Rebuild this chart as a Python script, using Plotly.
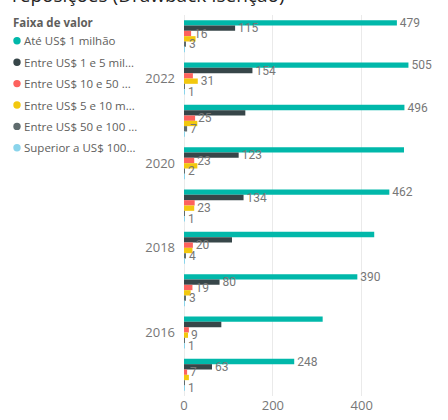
import plotly.graph_objects as go

# Data (top to bottom: 2023 ... 2015)
years = ["2023", "2022", "2021", "2020", "2019", "2018", "2017", "2016", "2015"]
tick_years = ["2022", "2020", "2018", "2016"]

series_names = [
    "Até US$ 1 milhão",
    "Entre US$ 1 e 5 mil...",
    "Entre US$ 10 e 50 ...",
    "Entre US$ 5 e 10 m...",
    "Entre US$ 50 e 100 ...",
    "Superior a US$ 100...",
]
ate_1 = [479, 505, 496, 495, 462, 428, 390, 312, 248]
entre_1_5 = [115, 154, 138, 123, 134, 108, 80, 84, 63]
entre_10_50 = [16, 20, 25, 23, 24, 20, 19, 11, 7]
entre_5_10 = [26, 31, 30, 30, 23, 19, 15, 9, 11]
entre_50_100 = [3, 2, 7, 2, 2, 4, 3, 1, 1]
superior_100 = [1, 1, 1, 1, 1, 1, 1, 1, 1]

# which data labels are visible in the reference (Power BI hides overlapping ones)
ate_1_shown = [1, 1, 1, 0, 1, 0, 1, 0, 1]
entre_1_5_shown = [1, 1, 0, 1, 1, 0, 1, 0, 1]
entre_10_50_shown = [1, 0, 1, 1, 0, 1, 1, 0, 1]
entre_5_10_shown = [0, 1, 0, 0, 1, 0, 0, 1, 0]
entre_50_100_shown = [1, 0, 1, 1, 0, 1, 1, 0, 0]
superior_100_shown = [0, 1, 0, 0, 1, 0, 0, 1, 1]

values = [ate_1, entre_1_5, entre_10_50, entre_5_10, entre_50_100, superior_100]
shown = [ate_1_shown, entre_1_5_shown, entre_10_50_shown, entre_5_10_shown,
         entre_50_100_shown, superior_100_shown]
colors = ["#01B8AA", "#374649", "#FD625E", "#F2C80F", "#5F6B6D", "#8AD4EB"]

W, H = 448, 420
ML, MR, MT, MB = 184, 0, 15, 24
PW, PH = W - ML - MR, H - MT - MB

fig = go.Figure()
for name, vals, sh, col in zip(series_names, values, shown, colors):
    fig.add_trace(go.Bar(
        y=years, x=vals, orientation="h", name=name,
        marker=dict(color=col, line=dict(width=0)),
        text=[" " + str(v) if s else "" for v, s in zip(vals, sh)],
        textposition="outside", constraintext="none", cliponaxis=False,
        textfont=dict(family="Roboto", size=12, color="#777777"),
        showlegend=False,
    ))

def px_x(p):
    return (p - ML) / PW

def px_y(p):
    return (H - MB - p) / PH

annotations = []
shapes = []
# Title (cut at top in the reference)
annotations.append(dict(
    text="reposições (Drawback Isenção)", xref="paper", yref="paper",
    x=px_x(10), y=px_y(10), xanchor="left", yanchor="bottom", showarrow=False,
    font=dict(family="Open Sans", size=19, color="#252423"),
))
# Legend
annotations.append(dict(
    text="<b>Faixa de valor</b>", xref="paper", yref="paper",
    x=px_x(11), y=px_y(22), xanchor="left", yanchor="middle", showarrow=False,
    font=dict(family="Open Sans", size=11.5, color="#605E5C"),
))
leg_y0, leg_dy = 40.8, 21.4
for i, (name, col) in enumerate(zip(series_names, colors)):
    yy = leg_y0 + i * leg_dy
    annotations.append(dict(
        text=name, xref="paper", yref="paper",
        x=px_x(22), y=px_y(yy), xanchor="left", yanchor="middle", showarrow=False,
        font=dict(family="Open Sans", size=11.5, color="#605E5C"),
    ))
    shapes.append(dict(
        type="circle", xref="paper", yref="paper",
        xsizemode="pixel", ysizemode="pixel",
        xanchor=px_x(17), yanchor=px_y(yy),
        x0=-3.7, x1=3.7, y0=-3.7, y1=3.7,
        fillcolor=col, line=dict(width=0),
    ))

fig.update_layout(
    width=W, height=H,
    margin=dict(l=ML, r=MR, t=MT, b=MB, pad=0),
    paper_bgcolor="white", plot_bgcolor="white",
    barmode="group", bargap=0.245, bargroupgap=0,
    annotations=annotations, shapes=shapes,
    showlegend=False,
    xaxis=dict(range=[0, 594], tickvals=[0, 200, 400], showgrid=True,
               gridcolor="#EAEAEA", gridwidth=1, zeroline=True,
               zerolinecolor="#EAEAEA", zerolinewidth=1, showline=False,
               tickfont=dict(family="Open Sans", size=13, color="#777777"),
               ticks="", fixedrange=True),
    yaxis=dict(type="category", autorange="reversed", tickvals=tick_years,
               ticktext=tick_years, showgrid=False, zeroline=False,
               tickfont=dict(family="Open Sans", size=13, color="#777777"),
               ticks="", ticklabelstandoff=8),
)

fig.write_html(
    "out.html",
    config={"displayModeBar": False},
    post_script="document.body.style.margin='0';document.body.style.overflow='hidden';",
)
